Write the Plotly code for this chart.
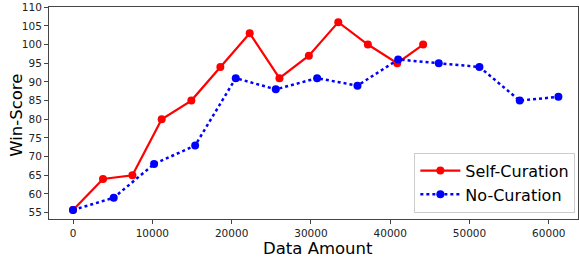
import plotly.graph_objects as go

self_x = [0, 3780, 7490, 11180, 14920, 18580, 22280, 26030, 29740, 33450, 37180, 40880, 44150]
self_y = [55.7, 64, 65, 80, 85, 94, 103, 91, 97, 106, 100, 95, 100]
no_x = [0, 5130, 10220, 15400, 20520, 25570, 30780, 35870, 41000, 46120, 51250, 56330, 61210]
no_y = [55.7, 59, 68, 73, 91, 88, 91, 89, 96, 95, 94, 85, 86]
x_ticks = [0, 10000, 20000, 30000, 40000, 50000, 60000]
y_ticks = [55, 60, 65, 70, 75, 80, 85, 90, 95, 100, 105, 110]

fig = go.Figure()
fig.add_trace(go.Scatter(x=self_x, y=self_y, mode="lines+markers", name="Self-Curation",
                         line=dict(color="red", width=2.2), marker=dict(color="red", size=8)))
fig.add_trace(go.Scatter(x=no_x, y=no_y, mode="lines+markers", name="No-Curation",
                         line=dict(color="blue", width=2.5, dash="dot"), marker=dict(color="blue", size=8)))

axis_common = dict(showgrid=False, zeroline=False, showline=True, linecolor="#444", linewidth=1,
                   mirror=True, ticks="outside", ticklen=4, tickcolor="#444", automargin=False,
                   tickfont=dict(family="DejaVu Sans", size=10.5, color="#222"))
fig.update_xaxes(range=[-3030, 63680], tickvals=x_ticks, ticktext=[str(v) for v in x_ticks], **axis_common)
fig.update_yaxes(range=[53.3, 110.05], tickvals=y_ticks, ticktext=[str(v) for v in y_ticks], **axis_common)

title_font = dict(family="DejaVu Sans", size=16.5, color="black")
fig.add_annotation(text="Data Amount", xref="paper", yref="paper", x=0.508, y=-0.137,
                   xanchor="center", yanchor="middle", showarrow=False, font=title_font)
fig.add_annotation(text="Win-Score", xref="paper", yref="paper", x=-0.063, y=0.49,
                   xanchor="center", yanchor="middle", showarrow=False, textangle=-90, font=title_font)

fig.update_layout(width=579, height=257, margin=dict(l=49, r=1, t=7, b=38, autoexpand=False),
                  plot_bgcolor="white", paper_bgcolor="white",
                  legend=dict(x=0.995, y=0.03, xanchor="right", yanchor="bottom",
                              font=dict(family="DejaVu Sans", size=16, color="black"),
                              bordercolor="#ccc", borderwidth=1, bgcolor="rgba(255,255,255,0.85)",
                              tracegroupgap=0, itemwidth=40),
                  showlegend=True)
fig.write_html("out.html", config={"displayModeBar": False})

with open("out.html", "r", encoding="utf-8") as f:
    html = f.read()
html = html.replace("<head>", "<head><style>html,body{margin:0;padding:0;overflow:hidden;}</style>", 1)
with open("out.html", "w", encoding="utf-8") as f:
    f.write(html)
